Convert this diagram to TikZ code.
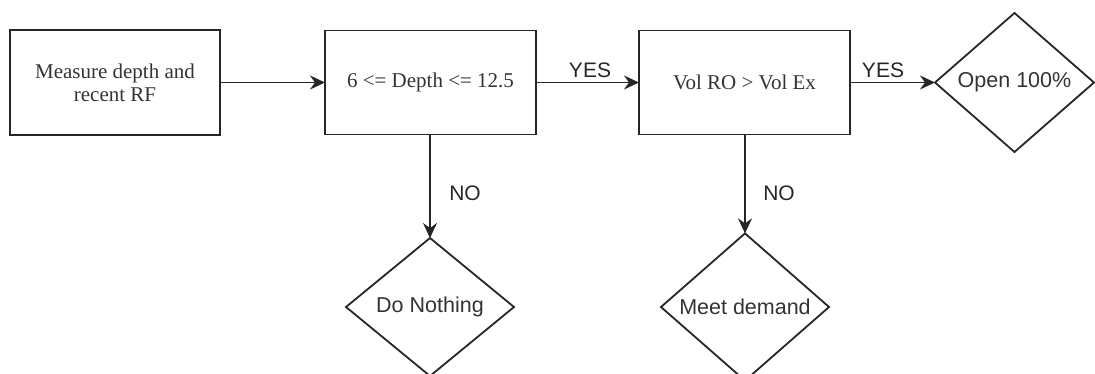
\documentclass[tikz,border=0pt]{standalone}
\usepackage{fontspec}
\setmainfont{Liberation Serif}
\newfontfamily\labfont{Liberation Sans}
\usetikzlibrary{shapes.geometric,arrows.meta}
\begin{document}
\begin{tikzpicture}[x=1pt,y=-1pt,
  every node/.style={inner sep=0pt, outer sep=0pt},
  procbox/.style={draw=black!85, line width=1.8pt, rectangle, minimum width=211pt, minimum height=104pt, align=center, font=\fontsize{21}{23}\selectfont, text=black!80},
  decbox/.style={draw=black!85, line width=1.8pt, diamond, minimum width=168pt, minimum height=138pt, align=center, font=\labfont\fontsize{21.5}{24}\selectfont, text=black!80},
  conn/.style={draw=black!85, line width=1.8pt, -{Stealth[length=15pt,width=14pt,inset=5pt]}},
  lab/.style={font=\labfont\fontsize{21}{24}\selectfont, text=black!85}
]
\useasboundingbox (0,0) rectangle (1095,373);
\node[procbox, minimum width=210pt, minimum height=105pt] (measure) at (115,82.5) {Measure depth and\\recent RF};
\node[procbox] (depth) at (430.5,82.5) {6 <= Depth <= 12.5};
\node[procbox] (vol) at (744.5,82.5) {Vol RO > Vol Ex};
\node[decbox, minimum width=159pt, minimum height=139pt] (open) at (1014.5,82.5) {Open 100\%};
\node[decbox] (nothing) at (430,307) {Do Nothing};
\node[decbox] (meet) at (745,307) {Meet demand};
\draw[conn] (measure) -- (depth);
\draw[conn] (depth) -- (vol);
\draw[conn] (vol) -- (open);
\draw[conn] (depth.south -| nothing.north) -- (nothing.north);
\draw[conn] (vol.south -| meet.north) -- (meet.north);
\node[lab] (yes1) at (590,70) {YES};
\node[lab] (yes2) at (883,70) {YES};
\node[lab] (no1) at (465,193) {NO};
\node[lab] (no2) at (779,193) {NO};
\end{tikzpicture}
\end{document}
